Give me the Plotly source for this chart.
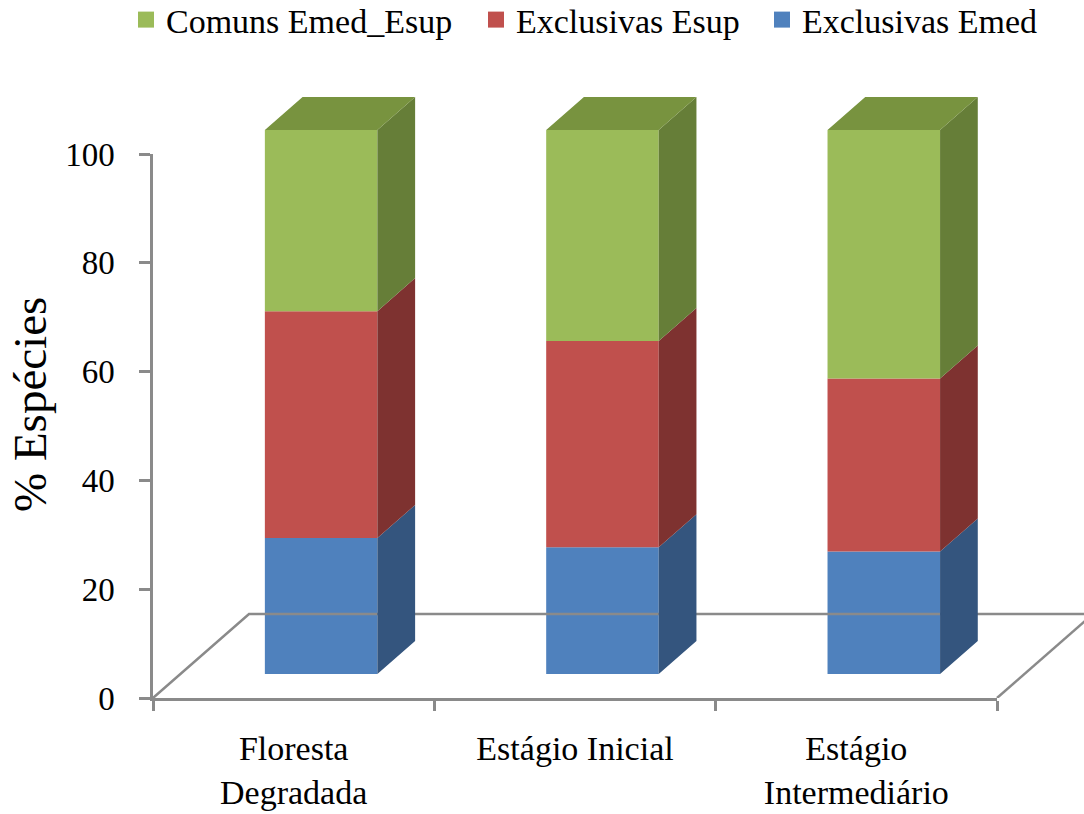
import plotly.graph_objects as go

# ---- data ---------------------------------------------------------------
categories = ["Floresta<br>Degradada", "Estágio Inicial", "Estágio<br>Intermediário"]
exclusivas_emed = [25.0, 23.3, 22.5]
exclusivas_esup = [41.7, 37.9, 31.8]
comuns_emed_esup = [33.3, 38.8, 45.7]
y_ticks = [0, 20, 40, 60, 80, 100]

# (name, values, front colour, side colour), stacked bottom to top
series = [
    ("Exclusivas Emed", exclusivas_emed, "#4F81BD", "#34557E"),
    ("Exclusivas Esup", exclusivas_esup, "#C0504D", "#7E3230"),
    ("Comuns Emed_Esup", comuns_emed_esup, "#9BBB59", "#667E38"),
]
TOP_COLOR = "#78933F"
AXIS_GRAY = "#8A8A8A"
FONT = "Liberation Serif"

# ---- geometry (pixels of the 1084x814 page) -----------------------------
W, H = 1084, 814
X_LEFT, X_RIGHT = 153, 997      # ends of the category axis
Y_ZERO, Y_HUNDRED = 698, 154    # value axis 0 and 100
px_cat = (X_RIGHT - X_LEFT) / 3
px_unit = (Y_ZERO - Y_HUNDRED) / 100

# depth of the floor, expressed in axis units
DX = 96 / px_cat
DY = 84 / px_unit
F0, F1 = 0.286, 0.679           # depth of bar front / back faces
BAR_W = 0.4

n = len(categories)
fig = go.Figure()

# floor outline of the 3-D box
fig.add_trace(go.Scatter(
    x=[-0.5, -0.5 + DX, n - 0.5 + DX + 1, None, n - 0.5, n - 0.5 + DX + 0.05],
    y=[0, DY, DY, None, 0, DY * (1 + 0.05 / DX)],
    mode="lines", line=dict(color=AXIS_GRAY, width=2.5),
    xaxis="x2", yaxis="y2", showlegend=False, hoverinfo="skip"))

cum = [0.0] * n
for name, vals, front, side in series:
    xs = [i + F0 * DX for i in range(n)]
    base = [c + F0 * DY for c in cum]
    fig.add_trace(go.Bar(
        x=xs, y=vals, base=base, width=BAR_W,
        marker=dict(color=front, line=dict(width=0)),
        xaxis="x2", yaxis="y2", showlegend=False, name=name))

    # right-hand side faces
    sx, sy = [], []
    for i in range(n):
        xr = i + F0 * DX + BAR_W / 2
        b = cum[i] + F0 * DY
        t = cum[i] + vals[i] + F0 * DY
        ddx, ddy = (F1 - F0) * DX, (F1 - F0) * DY
        sx += [xr, xr + ddx, xr + ddx, xr, xr, None]
        sy += [b, b + ddy, t + ddy, t, b, None]
    fig.add_trace(go.Scatter(
        x=sx, y=sy, fill="toself", fillcolor=side, mode="lines",
        line=dict(width=0, color=side), xaxis="x2", yaxis="y2",
        showlegend=False, hoverinfo="skip"))
    cum = [c + v for c, v in zip(cum, vals)]

# top faces of the stacks
tx, ty = [], []
for i in range(n):
    xl = i + F0 * DX - BAR_W / 2
    xr = xl + BAR_W
    t = cum[i] + F0 * DY
    ddx, ddy = (F1 - F0) * DX, (F1 - F0) * DY
    tx += [xl, xr, xr + ddx, xl + ddx, xl, None]
    ty += [t, t, t + ddy, t + ddy, t, None]
fig.add_trace(go.Scatter(
    x=tx, y=ty, fill="toself", fillcolor=TOP_COLOR, mode="lines",
    line=dict(width=0, color=TOP_COLOR), xaxis="x2", yaxis="y2",
    showlegend=False, hoverinfo="skip"))

# legend entries (top series first), each in its own legend box
legend_ids = ["legend", "legend2", "legend3"]
legend_x = [126, 476, 762]
for lid, (name, vals, front, side) in zip(legend_ids, reversed(series)):
    fig.add_trace(go.Scatter(
        x=[None], y=[None], mode="markers", name=name, legend=lid,
        marker=dict(symbol="square", size=16, color=front),
        xaxis="x", yaxis="y"))

legend_style = dict(orientation="h", y=1.0 + 9 / H, xanchor="left", yanchor="top",
                    font=dict(family=FONT, size=34, color="black"),
                    bgcolor="rgba(0,0,0,0)")

fig.update_layout(
    width=W, height=H,
    margin=dict(l=0, r=0, t=0, b=0, autoexpand=False),
    paper_bgcolor="white", plot_bgcolor="rgba(0,0,0,0)",
    font=dict(family=FONT, color="black"),
    barmode="overlay",
    showlegend=True,
    legend=dict(x=legend_x[0] / W, **legend_style),
    legend2=dict(x=legend_x[1] / W, **legend_style),
    legend3=dict(x=legend_x[2] / W, **legend_style),
    # frame axes
    xaxis=dict(domain=[X_LEFT / W, X_RIGHT / W], range=[-0.5, n - 0.5],
               tickvals=list(range(n)), ticktext=categories, ticks="",
               showline=True, linecolor=AXIS_GRAY, linewidth=2.5,
               showgrid=False, zeroline=False, fixedrange=True,
               automargin=False, ticklabelstandoff=18,
               tickfont=dict(family=FONT, size=34, color="black"),
               minor=dict(tickvals=[i - 0.5 for i in range(n + 1)], ticks="outside",
                          ticklen=10, tickwidth=2.5, tickcolor=AXIS_GRAY,
                          showgrid=False),
               anchor="y"),
    yaxis=dict(domain=[1 - Y_ZERO / H, 1 - Y_HUNDRED / H], range=[0, 100],
               tickvals=y_ticks, ticks="outside", ticklen=11, tickwidth=2.5,
               tickcolor=AXIS_GRAY, showline=True, linecolor=AXIS_GRAY,
               linewidth=2.5, showgrid=False, zeroline=False, fixedrange=True,
               automargin=False, ticklabelstandoff=18,
               tickfont=dict(family=FONT, size=33, color="black"),
               anchor="x"),
    # drawing space for the 3-D bars (same scale as the frame)
    xaxis2=dict(domain=[X_LEFT / W, 1.0],
                range=[-0.5, -0.5 + (W - X_LEFT) / px_cat],
                visible=False, fixedrange=True, anchor="y2", automargin=False),
    yaxis2=dict(domain=[1 - Y_ZERO / H, 1.0], range=[0, Y_ZERO / px_unit],
                visible=False, fixedrange=True, anchor="x2", automargin=False),
    annotations=[dict(text="% Espécies", x=30 / W, y=1 - 405 / H,
                      xref="paper", yref="paper", textangle=-90,
                      showarrow=False, xanchor="center", yanchor="middle",
                      font=dict(family=FONT, size=47, color="black"))],
)

fig.write_html("out.html")
